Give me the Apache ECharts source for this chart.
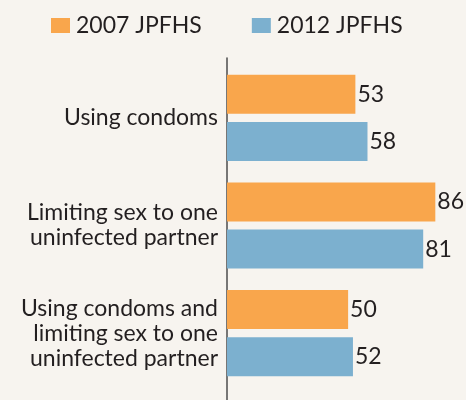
<!DOCTYPE html>
<html>
<head>
<meta charset="utf-8">
<script src="https://cdn.jsdelivr.net/npm/echarts@6/dist/echarts.min.js"></script>
<style>
  html, body { margin: 0; padding: 0; background: #f7f4ef; }
  #mychart { width: 466px; height: 400px; }
</style>
</head>
<body>
<div id="mychart"></div>
<script>
var categories = [
    'Using condoms',
    'Limiting sex to one\nuninfected partner',
    'Using condoms and\nlimiting sex to one\nuninfected partner'
];
var seriesNames = ['2007 JPFHS', '2012 JPFHS'];
var values2007 = [53, 86, 50];
var values2012 = [58, 81, 52];

var dom = document.getElementById("mychart");
var myChart = echarts.init(dom);

var textColor = '#231f20';
var font = 'Lato';

var option;
option = {
    backgroundColor: '#f7f4ef',
    animation: false,
    legend: {
        left: 46,
        top: 9,
        itemWidth: 19,
        itemHeight: 15,
        itemGap: 50,
        icon: 'rect',
        data: seriesNames,
        textStyle: {
            color: textColor,
            fontFamily: font,
            fontSize: 23,
            padding: [0, 0, 0, 1]
        }
    },
    grid: [
        { left: 227, top: 64, height: 323, width: 218 },
        { left: 227, top: 58, bottom: 0, width: 218 }
    ],
    xAxis: [
        { type: 'value', gridIndex: 0, min: 0, max: 90, show: false },
        { type: 'value', gridIndex: 1, min: 0, max: 1, show: false }
    ],
    yAxis: [
        {
            type: 'category',
            gridIndex: 0,
            inverse: true,
            data: categories,
            axisLine: { show: false },
            axisTick: { show: false },
            axisLabel: {
                margin: 9,
                color: textColor,
                fontFamily: font,
                fontSize: 23,
                lineHeight: 25,
                align: 'right'
            }
        },
        {
            type: 'value',
            gridIndex: 1,
            min: 0,
            max: 1,
            axisLine: { show: true, lineStyle: { color: '#4d4d4d', width: 1.5 } },
            axisTick: { show: false },
            axisLabel: { show: false },
            splitLine: { show: false }
        }
    ],
    series: [
        {
            name: seriesNames[0],
            type: 'bar',
            xAxisIndex: 0,
            yAxisIndex: 0,
            barWidth: 39,
            barGap: '21%',
            itemStyle: { color: '#f9a64c' },
            label: {
                show: true,
                position: 'right',
                distance: 2,
                color: textColor,
                fontFamily: font,
                fontSize: 23
            },
            data: values2007
        },
        {
            name: seriesNames[1],
            type: 'bar',
            xAxisIndex: 0,
            yAxisIndex: 0,
            barWidth: 39,
            barGap: '21%',
            itemStyle: { color: '#7cb0cf' },
            label: {
                show: true,
                position: 'right',
                distance: 2,
                color: textColor,
                fontFamily: font,
                fontSize: 23
            },
            data: values2012
        }
    ]
};

if (option && typeof option === 'object') {
    myChart.setOption(option);
}
</script>
</body>
</html>
